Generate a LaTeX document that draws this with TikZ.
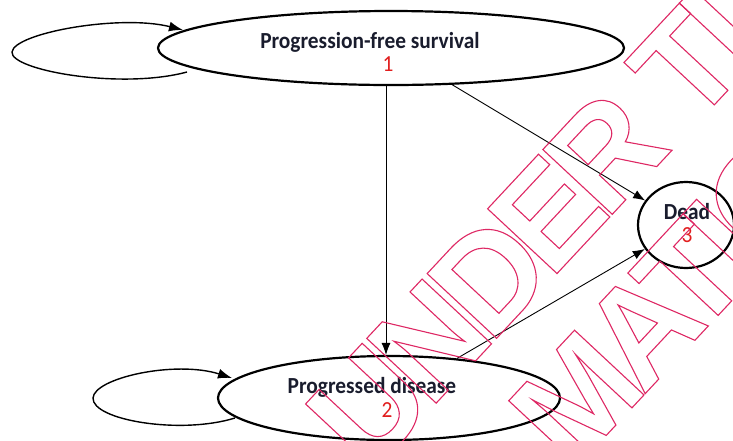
\documentclass[tikz,border=0pt]{standalone}
\usepackage{fontspec}
\setmainfont{Carlito}
\newfontfamily\lblfont[FakeStretch=0.93]{Carlito}
\newfontfamily\wmfont[LetterSpace=-8]{Liberation Sans}
\usetikzlibrary{arrows.meta,shapes.geometric}
\definecolor{lbl}{RGB}{25,28,45}
\definecolor{num}{RGB}{225,30,30}
\definecolor{wm}{RGB}{222,40,100}
\newcommand{\wmon}{\special{pdf:literal direct 1 Tr 1.1 w}}
\newcommand{\wmoff}{\special{pdf:literal direct 0 Tr}}
\tikzset{
  state/.style={ellipse, draw=black, line width=2.2pt, inner sep=0pt},
  arr/.style={draw=black, line width=0.9pt, -{Latex[length=12pt,width=9pt]}},
  loopline/.style={draw=black, line width=1.4pt, -{Latex[length=14pt,width=10pt]}},
  lab/.style={font=\lblfont\bfseries\fontsize{23}{25}\selectfont, text=lbl, inner sep=0pt, anchor=base},
  numlab/.style={font=\lblfont\fontsize{23}{25}\selectfont, text=num, inner sep=0pt, anchor=base},
  wmtext/.style={font=\wmfont\bfseries\fontsize{138}{138}\selectfont, text=wm, inner sep=0pt, anchor=west, rotate=47}
}
\begin{document}
\begin{tikzpicture}[x=1pt,y=1pt]
\useasboundingbox (0,0) rectangle (733,-440);
\clip (0,0) rectangle (733,-440);
% states
\node[state, minimum width=466pt, minimum height=74pt] (pfs) at (391,-48) {};
\node[state, minimum width=342pt, minimum height=84pt] (pd) at (389,-398) {};
\node[state, minimum width=96pt, minimum height=86pt] (dead) at (686,-225) {};
% labels
\node[lab] (pfsl) at (370,-48) {Progression-free survival};
\node[numlab] (pfsn) at (388,-71) {1};
\node[lab] (pdl) at (372,-393) {Progressed disease};
\node[numlab] (pdn) at (387,-417) {2};
\node[lab] (deadl) at (687,-219) {Dead};
\node[numlab] (deadn) at (687,-242) {3};
% transitions
\draw[arr] ([xshift=-5pt]pfs.south) -- ([xshift=-3pt]pd.north);
\draw[arr] (pfs) -- (dead);
\draw[arr] (pd) -- (dead);
% self loops
\coordinate (l1s) at (187,-72);
\coordinate (l1e) at (183,-30);
\coordinate (l2s) at (235,-418);
\coordinate (l2e) at (232,-378);
\draw[loopline] (l1s) .. controls (120,-90) and (10,-70) .. (12,-52) .. controls (14,-33) and (120,-14) .. (l1e);
\draw[loopline] (l2s) .. controls (180,-435) and (92,-420) .. (93,-398) .. controls (94,-378) and (175,-360) .. (l2e);
% watermark
\node[wmtext] (wm1) at (335,-443) {\wmon UNDER TI\wmoff};
\node[wmtext] (wm2) at (537,-440) {\wmon MATIO\wmoff};
\end{tikzpicture}
\end{document}
